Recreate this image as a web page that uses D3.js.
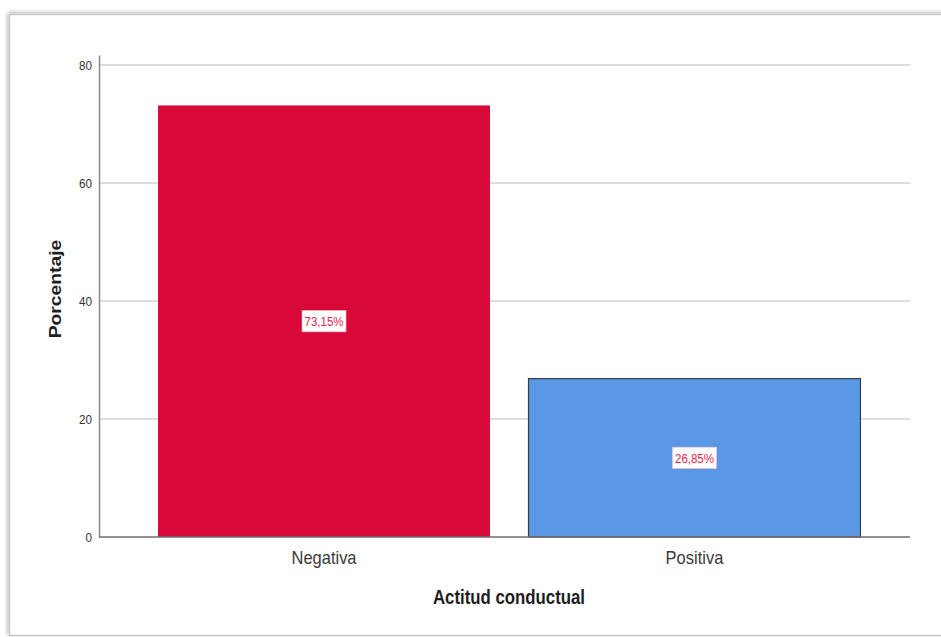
<!DOCTYPE html>
<html>
<head>
<meta charset="utf-8">
<script src="https://cdn.jsdelivr.net/npm/d3@7"></script>
<style>
  html, body { margin: 0; padding: 0; background: #fff; }
  svg { display: block; font-family: Arial, "Liberation Sans", sans-serif; }
</style>
</head>
<body>
<svg id="chart" width="941" height="637"></svg>
<script>
// ---- data ----
const categories = ["Negativa", "Positiva"];
const percentages = [73.15, 26.85];
const valueLabels = ["73,15%", "26,85%"];
const yTicks = [0, 20, 40, 60, 80];
const xTitle = "Actitud conductual";
const yTitle = "Porcentaje";

// ---- styles ----
const barFills = ["#d80838", "#5a98e6"];
const barStrokes = ["none", "#3c3c3c"];
const SY = 1.15; // vertical stretch of the reference picture

const svg = d3.select("#chart");

// frame with soft shadow
const defs = svg.append("defs");
const f = defs.append("filter").attr("id", "sh").attr("x", "-5%").attr("y", "-5%").attr("width", "110%").attr("height", "110%");
f.append("feGaussianBlur").attr("in", "SourceAlpha").attr("stdDeviation", 2).attr("result", "b");
f.append("feOffset").attr("in", "b").attr("dx", -1).attr("dy", -1).attr("result", "o");
f.append("feComponentTransfer").attr("in", "o").attr("result", "o2")
  .append("feFuncA").attr("type", "linear").attr("slope", 0.35);
const fm = f.append("feMerge");
fm.append("feMergeNode").attr("in", "o2");
fm.append("feMergeNode").attr("in", "SourceGraphic");

svg.append("rect").attr("x", 9.5).attr("y", 14.5).attr("width", 960).attr("height", 621)
  .attr("fill", "#fff").attr("stroke", "#c9c9c9").attr("stroke-width", 1.5)
  .attr("filter", "url(#sh)");

const pLeft = 99, pRight = 910, pBottom = 537, pTop = 55;

const y = d3.scaleLinear().domain([0, 81.7]).range([pBottom, pTop]);
const x = d3.scaleBand().domain(categories).range([119.5, 899]).paddingInner(0.104).paddingOuter(0.104);

// gridlines
svg.append("g").selectAll("line").data(yTicks.filter(d => d > 0)).join("line")
  .attr("x1", pLeft).attr("x2", pRight)
  .attr("y1", d => y(d)).attr("y2", d => y(d))
  .attr("stroke", "#d2d2d2").attr("stroke-width", 1.5);

// bars
svg.append("g").selectAll("rect").data(percentages).join("rect")
  .attr("x", (d, i) => x(categories[i]))
  .attr("y", d => y(d))
  .attr("width", x.bandwidth())
  .attr("height", d => y(0) - y(d))
  .attr("fill", (d, i) => barFills[i])
  .attr("stroke", (d, i) => barStrokes[i])
  .attr("stroke-width", 1.2);

// y axis
const yAxis = svg.append("g").attr("transform", `translate(${pLeft},0)`)
  .call(d3.axisLeft(y).tickValues(yTicks).tickSize(0).tickPadding(7).tickFormat(d3.format("d")));
yAxis.select(".domain").attr("stroke", "#8a8a8a").attr("stroke-width", 1.5);
yAxis.selectAll("text").attr("font-size", 11.7).attr("fill", "#333")
  .attr("font-family", "Arial, 'Liberation Sans', sans-serif")
  .attr("transform", `scale(1,${SY})`).attr("dy", "0.36em");

// x axis
const xAxis = svg.append("g").attr("transform", `translate(0,${pBottom})`)
  .call(d3.axisBottom(x).tickSize(0).tickPadding(11.8));
xAxis.select(".domain").remove();
svg.append("line").attr("x1", pLeft).attr("x2", pRight).attr("y1", pBottom).attr("y2", pBottom)
  .attr("stroke", "#6e6e6e").attr("stroke-width", 1.5);
xAxis.selectAll("text").attr("font-size", 16.5).attr("fill", "#3a3a3a")
  .attr("font-family", "Arial, 'Liberation Sans', sans-serif")
  .attr("transform", `scale(1,${SY})`);

// value labels
const lg = svg.append("g").selectAll("g").data(percentages).join("g")
  .attr("transform", (d, i) => `translate(${x(categories[i]) + x.bandwidth() / 2},${(y(d) + y(0)) / 2}) scale(1,${SY})`);
lg.append("rect").attr("class", "lbox").attr("fill", "#fff").attr("stroke", "#f2c6cf").attr("stroke-width", 0.6);
lg.append("text").text((d, i) => valueLabels[i])
  .attr("text-anchor", "middle").attr("dy", "0.36em")
  .attr("font-size", 11.5).attr("fill", "#e2254f");
lg.each(function () {
  const g = d3.select(this);
  const w = g.select("text").node().getComputedTextLength();
  g.select("rect").attr("x", -w / 2 - 2.5).attr("y", -9.2).attr("width", w + 5).attr("height", 18.4);
});

// axis titles
svg.append("text").attr("transform", `translate(509,604) scale(1,${SY})`)
  .attr("text-anchor", "middle").attr("font-weight", "bold").attr("font-size", 16.8)
  .attr("fill", "#1e1e1e").text(xTitle);
svg.append("text").attr("transform", `translate(61,289) rotate(-90) scale(${SY},1)`)
  .attr("text-anchor", "middle").attr("font-weight", "bold").attr("font-size", 16.8)
  .attr("fill", "#1e1e1e").text(yTitle);
</script>
</body>
</html>
